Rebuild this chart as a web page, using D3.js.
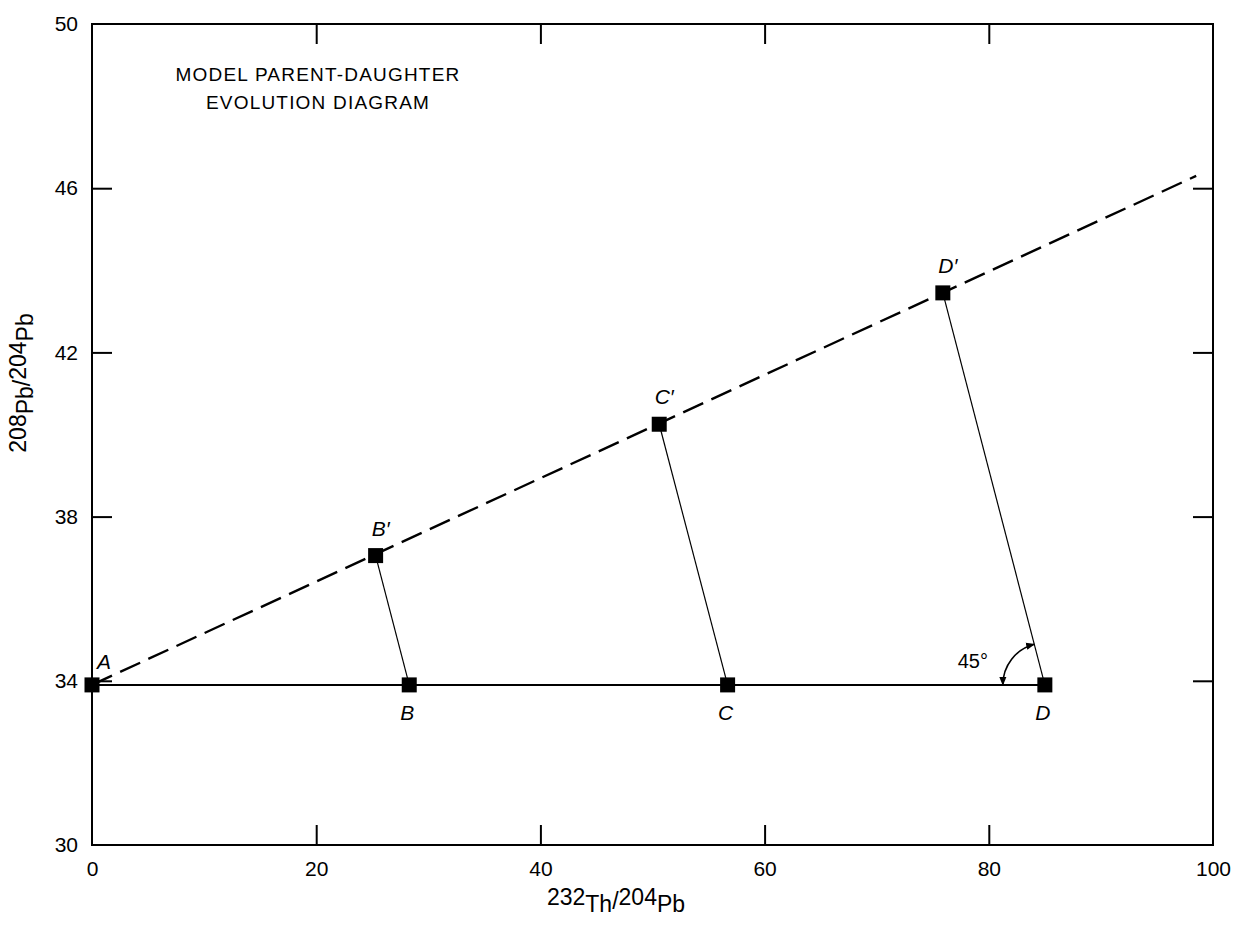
<!DOCTYPE html>
<html>
<head>
<meta charset="utf-8">
<title>Model parent-daughter evolution diagram</title>
<script src="https://d3js.org/d3.v7.min.js"></script>
<style>
  body { margin: 0; background: #fff; }
  svg { font-family: "Liberation Sans", Arial, sans-serif; }
  .tick text { font-size: 21px; fill: #000; }
  .tick line { stroke: #000; stroke-width: 2; }
  .domain { display: none; }
</style>
</head>
<body>
<script>
// data
var xTicks = [0, 20, 40, 60, 80, 100];
var yTicks = [30, 34, 38, 42, 46, 50];
var initial = [
  { name: "A", x: 0, y: 33.9 },
  { name: "B", x: 28.3, y: 33.9 },
  { name: "C", x: 56.7, y: 33.9 },
  { name: "D", x: 85, y: 33.9 }
];
var evolved = [
  { name: "A", x: 0, y: 33.9 },
  { name: "B\u2032", x: 25.3, y: 37.05 },
  { name: "C\u2032", x: 50.6, y: 40.25 },
  { name: "D\u2032", x: 75.9, y: 43.45 }
];
var isochronEnd = { x: 98.5, y: 46.3 };
var titleLines = ["MODEL PARENT-DAUGHTER", "EVOLUTION DIAGRAM"];

var W = 1234, H = 928;
var mL = 92, mR = 1213, mT = 24, mB = 845;

var svg = d3.select("body").append("svg")
  .attr("width", W).attr("height", H);

var x = d3.scaleLinear().domain([0, 100]).range([mL, mR]);
var y = d3.scaleLinear().domain([30, 50]).range([mB, mT]);

// arrow marker for the angle arc
svg.append("defs").append("marker")
  .attr("id", "arr")
  .attr("viewBox", "0 0 10 10")
  .attr("refX", 9).attr("refY", 5)
  .attr("markerWidth", 9).attr("markerHeight", 9)
  .attr("markerUnits", "userSpaceOnUse")
  .attr("orient", "auto-start-reverse")
  .append("path").attr("d", "M0,1 L10,5 L0,9 Z").attr("fill", "#000");

// frame
svg.append("rect")
  .attr("x", mL).attr("y", mT)
  .attr("width", mR - mL).attr("height", mB - mT)
  .attr("fill", "none").attr("stroke", "#000").attr("stroke-width", 2);

var inner = function(v, lo, hi) { return v !== lo && v !== hi; };

// bottom axis with labels
var gx = svg.append("g").attr("transform", "translate(0," + mB + ")")
  .call(d3.axisBottom(x).tickValues(xTicks).tickSizeInner(-20).tickSizeOuter(0));
gx.selectAll(".tick line").filter(function(d) { return !inner(d, 0, 100); }).remove();
gx.selectAll(".tick text").attr("y", 16).attr("dy", "0.71em");

// top axis, ticks only
svg.append("g").attr("transform", "translate(0," + mT + ")")
  .call(d3.axisTop(x).tickValues(xTicks.filter(function(d) { return inner(d, 0, 100); })).tickSizeInner(-20).tickSizeOuter(0).tickFormat(""));

// left axis with labels
var gy = svg.append("g").attr("transform", "translate(" + mL + ",0)")
  .call(d3.axisLeft(y).tickValues(yTicks).tickSizeInner(-20).tickSizeOuter(0));
gy.selectAll(".tick line").filter(function(d) { return !inner(d, 30, 50); }).remove();
gy.selectAll(".tick text").attr("x", -14);

// right axis, ticks only
svg.append("g").attr("transform", "translate(" + mR + ",0)")
  .call(d3.axisRight(y).tickValues(yTicks.filter(function(d) { return inner(d, 30, 50); })).tickSizeInner(-20).tickSizeOuter(0).tickFormat(""));

// axis titles
function ratioLabel(t, a, b, c, d) {
  t.append("tspan").attr("baseline-shift", "7").text(a);
  t.append("tspan").text(b);
  t.append("tspan").attr("baseline-shift", "3").text("/");
  t.append("tspan").attr("baseline-shift", "7").text(c);
  t.append("tspan").text(d);
}
var xt = svg.append("text")
  .attr("x", 616).attr("y", 912)
  .attr("text-anchor", "middle").attr("font-size", 23);
ratioLabel(xt, "232", "Th", "204", "Pb");

var yt = svg.append("text")
  .attr("transform", "translate(33,383) rotate(-90)")
  .attr("text-anchor", "middle").attr("font-size", 23);
ratioLabel(yt, "208", "Pb", "204", "Pb");

// title
svg.append("g").selectAll("text").data(titleLines).join("text")
  .attr("x", 318).attr("y", function(d, i) { return 81 + i * 28; })
  .attr("text-anchor", "middle").attr("font-size", 19)
  .attr("letter-spacing", 1.2)
  .text(function(d) { return d; });

// horizontal initial line A-D
svg.append("line")
  .attr("x1", x(initial[0].x)).attr("y1", y(initial[0].y))
  .attr("x2", x(initial[3].x)).attr("y2", y(initial[3].y))
  .attr("stroke", "#000").attr("stroke-width", 2);

// dashed isochron
svg.append("line")
  .attr("x1", x(evolved[0].x)).attr("y1", y(evolved[0].y))
  .attr("x2", x(isochronEnd.x)).attr("y2", y(isochronEnd.y))
  .attr("stroke", "#000").attr("stroke-width", 2.4)
  .attr("stroke-dasharray", "22,9");

// evolution lines
svg.append("g").selectAll("line").data(d3.range(1, 4)).join("line")
  .attr("x1", function(i) { return x(initial[i].x); })
  .attr("y1", function(i) { return y(initial[i].y); })
  .attr("x2", function(i) { return x(evolved[i].x); })
  .attr("y2", function(i) { return y(evolved[i].y); })
  .attr("stroke", "#000").attr("stroke-width", 1.2);

// markers
var pts = initial.concat(evolved.slice(1));
svg.append("g").selectAll("rect").data(pts).join("rect")
  .attr("x", function(d) { return x(d.x) - 7.5; })
  .attr("y", function(d) { return y(d.y) - 7.5; })
  .attr("width", 15).attr("height", 15).attr("fill", "#000");

// point labels
var lab = svg.append("g").attr("font-size", 21).attr("font-style", "italic");
lab.selectAll("text.lo").data(initial.slice(1)).join("text")
  .attr("x", function(d) { return x(d.x) - 2; })
  .attr("y", function(d) { return y(d.y) + 35; })
  .attr("text-anchor", "middle")
  .text(function(d) { return d.name; });
lab.selectAll("text.hi").data(evolved.slice(1)).join("text")
  .attr("x", function(d) { return x(d.x) + 5; })
  .attr("y", function(d) { return y(d.y) - 20; })
  .attr("text-anchor", "middle")
  .text(function(d) { return d.name; });
lab.append("text")
  .attr("x", x(initial[0].x) + 12).attr("y", y(initial[0].y) - 16)
  .attr("text-anchor", "middle").text("A");

// 45 degree arc at D
var D = initial[3], Dp = evolved[3];
var cx = x(D.x), cy = y(D.y);
var ang = Math.atan2(y(Dp.y) - cy, x(Dp.x) - cx);
var r = 42;
var p1 = [cx - r, cy], p2 = [cx + r * Math.cos(ang), cy + r * Math.sin(ang)];
svg.append("path")
  .attr("d", "M" + p1[0] + "," + p1[1] + " A" + r + "," + r + " 0 0 1 " + p2[0] + "," + p2[1])
  .attr("fill", "none").attr("stroke", "#000").attr("stroke-width", 1.6)
  .attr("marker-start", "url(#arr)").attr("marker-end", "url(#arr)");
svg.append("text")
  .attr("x", cx - 72).attr("y", cy - 17)
  .attr("font-size", 20).attr("text-anchor", "middle")
  .text("45\u00b0");
</script>
</body>
</html>
